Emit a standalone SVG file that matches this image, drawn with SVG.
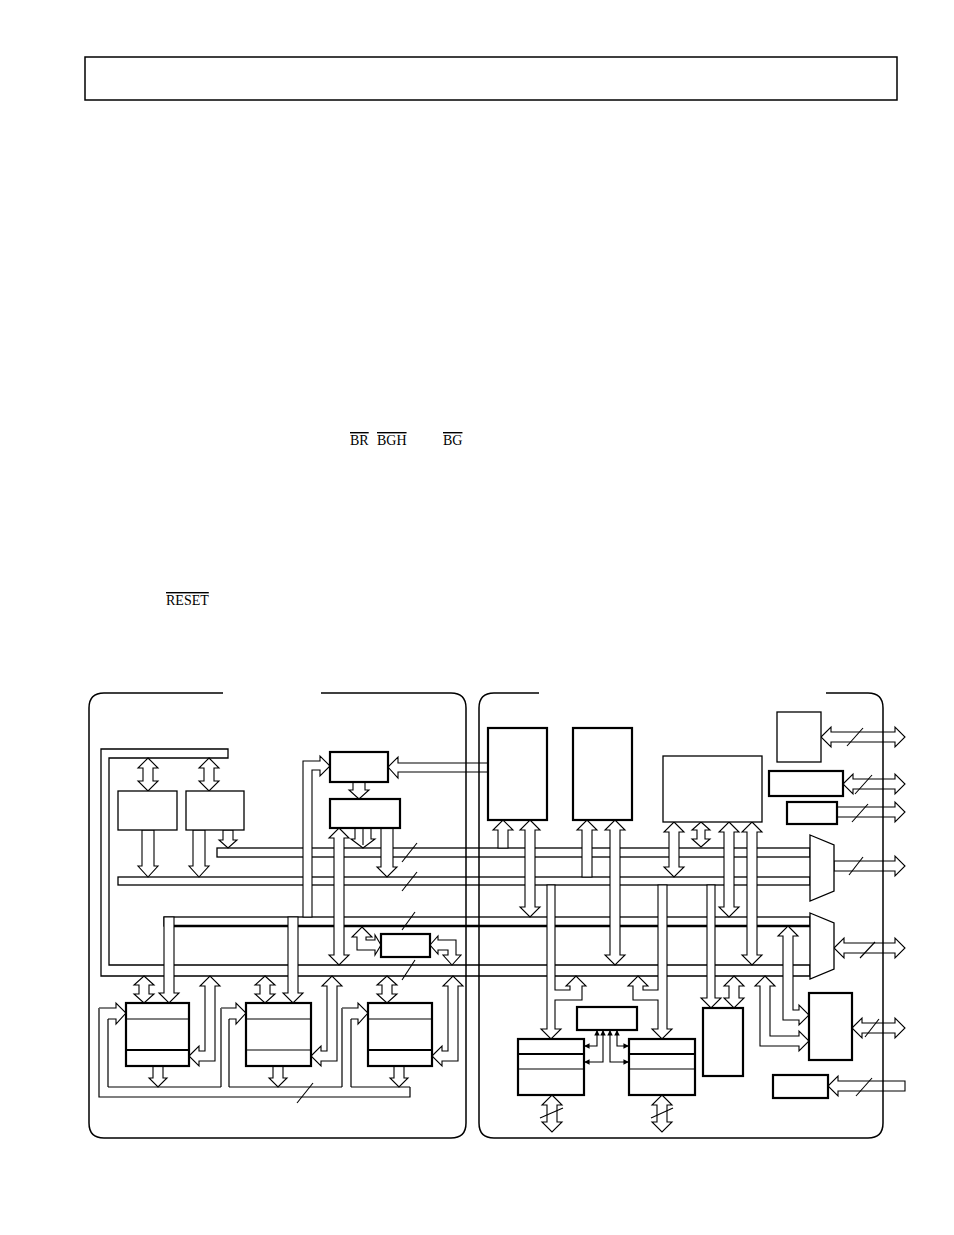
<svg xmlns="http://www.w3.org/2000/svg" width="954" height="1235" viewBox="0 0 954 1235">
<style>
.p{fill:none;stroke:#000;stroke-width:1.5}
.b{fill:#fff;stroke:#000;stroke-width:1.3}
.k{fill:#fff;stroke:#000;stroke-width:2.2}
.a{fill:#fff;stroke:#000;stroke-width:1.1;stroke-linejoin:miter}
.l{fill:none;stroke:#000;stroke-width:1.2}
.s{fill:none;stroke:#000;stroke-width:1.1}
.t{font-family:"Liberation Serif",serif;font-size:14px;text-decoration:overline}
</style>
<defs>
<marker id="m" viewBox="0 0 6 6" refX="5" refY="3" markerWidth="5" markerHeight="5" orient="auto-start-reverse"><path d="M0,0L6,3L0,6z" fill="#000"/></marker>
</defs>
<rect x="85" y="57" width="812" height="43" fill="none" stroke="#000" stroke-width="1.5"/>
<text class="t" x="350" y="445">BR</text>
<text class="t" x="377" y="445">BGH</text>
<text class="t" x="443" y="445">BG</text>
<text class="t" x="166" y="605">RESET</text>
<g id="connectors">
<rect class="b" x="217" y="848" width="593" height="9"/>
<rect class="b" x="118" y="877" width="692" height="8"/>
<rect class="b" x="164" y="917" width="646" height="9"/>
<line x1="174" y1="926" x2="810" y2="926" stroke="#000" stroke-width="2.5"/>
<polygon class="b" points="101,749 228,749 228,758 109,758 109,965 810,965 810,976 101,976"/>
<polygon class="a" points="148,758 158,768 153,768 153,781 158,781 148,791 138,781 143,781 143,768 138,768"/>
<polygon class="a" points="209,758 219,768 214,768 214,781 219,781 209,791 199,781 204,781 204,768 199,768"/>
<polygon class="a" points="142,830 142,866 138,866 148,877 158,866 154,866 154,830"/>
<polygon class="a" points="193,830 193,866 189,866 199,877 209,866 205,866 205,830"/>
<polygon class="a" points="223,830 223,840 219,840 228,848 237,840 233,840 233,830"/>
<polygon class="a" points="353,782 353,790 349,790 359,799 369,790 365,790 365,782"/>
<polygon class="a" points="355,828 355,839 351,839 363,848 375,839 371,839 371,828"/>
<line class="s" x1="363" y1="828" x2="363" y2="845"/>
<polygon class="a" points="381,828 381,867 377,867 387,877 397,867 393,867 393,828"/>
<polygon class="a" points="339,828 349,838 344,838 344,955 349,955 339,965 329,955 334,955 334,838 329,838"/>
<polygon class="a" points="303,917 303,761 320,761 320,756 330,766 320,776 320,770 312,770 312,917"/>
<polygon class="a" points="488,763 398,763 398,757 388,767 398,778 398,772 488,772"/>
<polygon class="a" points="164,917 164,993 159,993 169,1003 179,993 174,993 174,917"/>
<polygon class="a" points="288,917 288,993 283,993 293,1003 303,993 298,993 298,917"/>
<polygon class="a" points="362,927 372,937 366,937 366,940 375,940 375,935 381,945 375,955 375,950 357,950 357,937 352,937"/>
<polygon class="a" points="430,945 438,936 438,940 456,940 456,955 461,955 452,965 443,955 448,955 448,950 438,950 438,954"/>
<polygon class="a" points="144,976 154,985 149,985 149,994 154,994 144,1003 134,994 139,994 139,985 134,985"/>
<polygon class="a" points="265,976 275,985 270,985 270,994 275,994 265,1003 255,994 260,994 260,985 255,985"/>
<polygon class="a" points="387,976 397,985 392,985 392,994 397,994 387,1003 377,994 382,994 382,985 377,985"/>
<polygon class="a" points="189,1056 199,1046 199,1051 205,1051 205,986 200,986 210,976 220,986 215,986 215,1061 199,1061 199,1066"/>
<polygon class="a" points="311,1056 321,1046 321,1051 327,1051 327,986 322,986 332,976 342,986 337,986 337,1061 321,1061 321,1066"/>
<polygon class="a" points="432,1056 442,1046 442,1051 448,1051 448,986 443,986 453,976 463,986 458,986 458,1061 442,1061 442,1066"/>
<polyline class="l" points="99,1008 99,1097 410,1097 410,1087"/>
<line class="l" x1="108" y1="1087" x2="221" y2="1087"/>
<line class="l" x1="229" y1="1087" x2="342" y2="1087"/>
<line class="l" x1="351" y1="1087" x2="410" y2="1087"/>
<line class="l" x1="108" y1="1019" x2="108" y2="1087"/>
<line class="l" x1="221" y1="1008" x2="221" y2="1087"/>
<line class="l" x1="229" y1="1019" x2="229" y2="1087"/>
<line class="l" x1="342" y1="1008" x2="342" y2="1087"/>
<line class="l" x1="351" y1="1019" x2="351" y2="1087"/>
<polyline class="a" points="99,1008 116,1008 116,1003 126,1013 116,1024 116,1019 108,1019"/>
<polyline class="a" points="221,1008 236,1008 236,1003 246,1013 236,1024 236,1019 229,1019"/>
<polyline class="a" points="342,1008 358,1008 358,1003 368,1013 358,1024 358,1019 351,1019"/>
<polygon class="a" points="153,1066 153,1078 149,1078 158,1087 167,1078 163,1078 163,1066"/>
<polygon class="a" points="273,1066 273,1078 269,1078 278,1087 287,1078 283,1078 283,1066"/>
<polygon class="a" points="394,1066 394,1078 390,1078 399,1087 408,1078 404,1078 404,1066"/>
<polygon class="a" points="498,848 498,830 493,830 503,820 513,830 508,830 508,848"/>
<polygon class="a" points="530,820 540,830 535,830 535,907 540,907 530,917 520,907 525,907 525,830 520,830"/>
<polygon class="a" points="582,877 582,830 577,830 587,820 597,830 592,830 592,877"/>
<polygon class="a" points="615,820 625,830 620,830 620,955 625,955 615,965 605,955 610,955 610,830 605,830"/>
<polygon class="a" points="674,822 684,832 679,832 679,867 684,867 674,877 664,867 669,867 669,832 664,832"/>
<polygon class="a" points="701,822 710,830 705,830 705,839 710,839 701,847 692,839 697,839 697,830 692,830"/>
<polygon class="a" points="729,822 739,832 734,832 734,907 739,907 729,917 719,907 724,907 724,832 719,832"/>
<polygon class="a" points="752,822 762,832 757,832 757,955 762,955 752,965 742,955 747,955 747,832 742,832"/>
<polygon class="a" points="547,885 547,1029 541,1029 551,1039 561,1029 555,1029 555,1000 582,1000 582,986 586,986 576,976 566,986 570,986 570,990 555,990 555,885"/>
<polygon class="a" points="667,885 667,1029 672,1029 662,1039 652,1029 658,1029 658,1000 633,1000 633,986 628,986 638,976 648,986 643,986 643,990 658,990 658,885"/>
<polygon class="a" points="707,885 707,998 701,998 711,1008 721,998 715,998 715,885"/>
<polygon class="a" points="734,976 744,986 739,986 739,998 744,998 734,1008 724,998 729,998 729,986 724,986"/>
<polygon class="a" points="788,926 798,936 793,936 793,1010 799,1010 799,1005 809,1015 799,1025 799,1020 783,1020 783,936 778,936"/>
<polygon class="a" points="765,976 775,986 770,986 770,1036 799,1036 799,1031 809,1041 799,1051 799,1046 760,1046 760,986 755,986"/>
<polygon class="a" points="821,737 831,727 831,732 895,732 895,727 905,737 895,747 895,742 831,742 831,747"/>
<polygon class="a" points="843,784 853,774 853,779 895,779 895,774 905,784 895,794 895,789 853,789 853,794"/>
<polygon class="a" points="837,807 895,807 895,802 905,812 895,822 895,817 837,817"/>
<polygon class="a" points="834,861 895,861 895,856 905,866 895,876 895,871 834,871"/>
<polygon class="a" points="834,948 844,938 844,943 895,943 895,938 905,948 895,958 895,953 844,953 844,958"/>
<polygon class="a" points="852,1028 862,1018 862,1023 895,1023 895,1018 905,1028 895,1038 895,1033 862,1033 862,1038"/>
<polygon class="a" points="905,1081 838,1081 838,1076 828,1086 838,1096 838,1091 905,1091"/>
<polygon class="a" points="552,1095 562,1105 557,1105 557,1122 562,1122 552,1132 542,1122 547,1122 547,1105 542,1105"/>
<polygon class="a" points="662,1095 672,1105 667,1105 667,1122 672,1122 662,1132 652,1122 657,1122 657,1105 652,1105"/>
<polyline class="s" marker-start="url(#m)" marker-end="url(#m)" points="597,1031 597,1046 585,1046"/>
<polyline class="s" marker-start="url(#m)" marker-end="url(#m)" points="603,1031 603,1062 585,1062"/>
<polyline class="s" marker-start="url(#m)" marker-end="url(#m)" points="610,1031 610,1062 628,1062"/>
<polyline class="s" marker-start="url(#m)" marker-end="url(#m)" points="617,1031 617,1046 628,1046"/>
<line class="s" x1="402" y1="862" x2="417" y2="843"/>
<line class="s" x1="402" y1="891" x2="417" y2="872"/>
<line class="s" x1="402" y1="930" x2="415" y2="912"/>
<line class="s" x1="402" y1="980" x2="415" y2="960"/>
<line class="s" x1="297" y1="1103" x2="313" y2="1083"/>
<line class="s" x1="847" y1="746" x2="863" y2="728"/>
<line class="s" x1="855" y1="794" x2="872" y2="775"/>
<line class="s" x1="852" y1="822" x2="868" y2="804"/>
<line class="s" x1="849" y1="875" x2="863" y2="857"/>
<line class="s" x1="860" y1="958" x2="875" y2="942"/>
<line class="s" x1="865" y1="1037" x2="879" y2="1019"/>
<line class="s" x1="856" y1="1096" x2="872" y2="1078"/>
<line class="s" x1="540" y1="1118" x2="563" y2="1108"/>
<line class="s" x1="651" y1="1118" x2="673" y2="1108"/>
</g>
<g id="panels">
<path class="p" d="M223,693H104Q89,693 89,708V1123Q89,1138 104,1138H451Q466,1138 466,1123V708Q466,693 451,693H321"/>
<path class="p" d="M539,693H494Q479,693 479,708V1123Q479,1138 494,1138H868Q883,1138 883,1123V708Q883,693 868,693H826"/>
</g>
<g id="box1"><rect class="b" x="118" y="791" width="59" height="39"/></g>
<g id="box2"><rect class="b" x="186" y="791" width="58" height="39"/></g>
<g id="box3"><rect class="k" x="330" y="752" width="58" height="30"/></g>
<g id="box4"><rect class="k" x="330" y="799" width="70" height="29"/></g>
<g id="box5"><rect class="k" x="381" y="934" width="49" height="23"/></g>
<g id="bank1"><rect class="k" x="126" y="1003" width="63" height="63"/><line class="l" x1="126" y1="1019" x2="189" y2="1019"/><line x1="126" y1="1050" x2="189" y2="1050" stroke="#000" stroke-width="2.2"/></g>
<g id="bank2"><rect class="k" x="246" y="1003" width="65" height="63"/><line class="l" x1="246" y1="1019" x2="311" y2="1019"/><line class="l" x1="246" y1="1050" x2="311" y2="1050"/></g>
<g id="bank3"><rect class="k" x="368" y="1003" width="64" height="63"/><line class="l" x1="368" y1="1019" x2="432" y2="1019"/><line x1="368" y1="1050" x2="432" y2="1050" stroke="#000" stroke-width="2.2"/></g>
<g id="r1"><rect class="k" x="488" y="728" width="59" height="92"/></g>
<g id="r2"><rect class="k" x="573" y="728" width="59" height="92"/></g>
<g id="r3"><rect class="b" x="663" y="756" width="99" height="66"/></g>
<g id="r4"><rect class="b" x="777" y="712" width="44" height="50"/></g>
<g id="r5"><rect class="k" x="769" y="771" width="74" height="25"/></g>
<g id="r6"><rect class="k" x="787" y="802" width="50" height="22"/></g>
<g id="mux1"><polygon class="b" points="810,835 834,845 834,891 810,901"/></g>
<g id="mux2"><polygon class="b" points="810,913 834,923 834,969 810,979"/></g>
<g id="r7"><rect class="k" x="809" y="993" width="43" height="67"/></g>
<g id="r8"><rect class="k" x="773" y="1075" width="55" height="23"/></g>
<g id="r9"><rect class="k" x="703" y="1008" width="40" height="68"/></g>
<g id="r10"><rect class="k" x="577" y="1007" width="60" height="23"/></g>
<g id="rbank1"><rect class="k" x="518" y="1039" width="66" height="56"/><line x1="518" y1="1054" x2="584" y2="1054" stroke="#000" stroke-width="2.2"/><line class="l" x1="518" y1="1069" x2="584" y2="1069"/></g>
<g id="rbank2"><rect class="k" x="629" y="1039" width="66" height="56"/><line x1="629" y1="1054" x2="695" y2="1054" stroke="#000" stroke-width="2.2"/><line class="l" x1="629" y1="1069" x2="695" y2="1069"/></g>
</svg>
